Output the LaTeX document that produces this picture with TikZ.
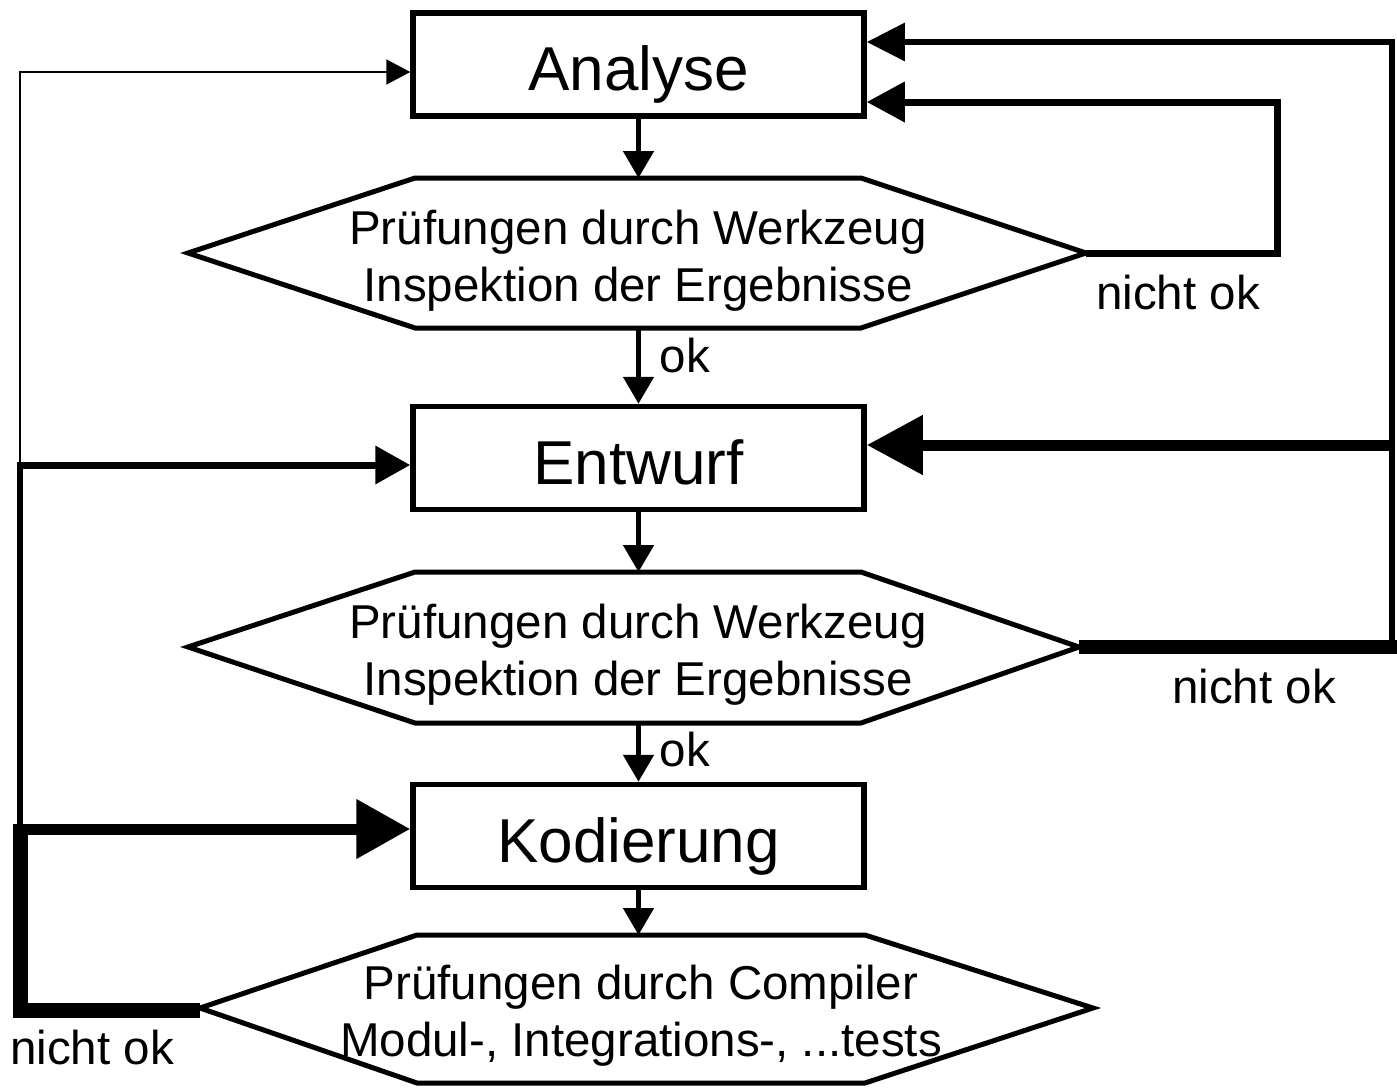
\documentclass[tikz,border=0pt]{standalone}
\usepackage{fontspec}
\setmainfont{Liberation Sans}
\usetikzlibrary{arrows.meta,calc}

\begin{document}
\begin{tikzpicture}[x=1pt,y=-1pt,
  phase/.style={draw, line width=5.5pt, minimum width=451pt, minimum height=103pt,
    inner sep=0pt, font=\fontsize{62}{74}\selectfont, text height=52pt, text depth=0pt},
  checktext/.style={inner sep=0pt, align=center, font=\fontsize{47.5}{57}\selectfont},
  hexline/.style={line width=5pt, line join=miter},
  flow/.style={line width=5pt, -{Triangle[length=27pt,width=30pt]}},
  lbl/.style={font=\fontsize{47.5}{57}\selectfont, anchor=base, inner sep=0pt},
]
\useasboundingbox (0,0) rectangle (1397,1087);

% phases
\node[phase] (A) at (638.5,64.5) {Analyse};
\node[phase] (E) at (638.5,458) {Entwurf};
\node[phase] (K) at (638.5,836) {Kodierung};

% check stage 1
\coordinate (h1w) at (188,253);  \coordinate (h1e) at (1086,253);
\coordinate (h1nw) at (415,178); \coordinate (h1ne) at (861,178);
\coordinate (h1sw) at (415,328); \coordinate (h1se) at (861,328);
\coordinate (h1n) at (638.5,178); \coordinate (h1s) at (638.5,328);
\draw[hexline] (h1w) -- (h1nw) -- (h1ne) -- (h1e) -- (h1se) -- (h1sw) -- cycle;
\node[checktext] (h1) at (638,261) {Prüfungen durch Werkzeug\\Inspektion der Ergebnisse};

% check stage 2
\coordinate (h2w) at (188,647);  \coordinate (h2e) at (1079,647);
\coordinate (h2nw) at (415,572); \coordinate (h2ne) at (861,572);
\coordinate (h2sw) at (415,723); \coordinate (h2se) at (861,723);
\coordinate (h2n) at (638.5,572); \coordinate (h2s) at (638.5,723);
\draw[hexline] (h2w) -- (h2nw) -- (h2ne) -- (h2e) -- (h2se) -- (h2sw) -- cycle;
\node[checktext] (h2) at (638,655) {Prüfungen durch Werkzeug\\Inspektion der Ergebnisse};

% check stage 3
\coordinate (h3w) at (200,1008);  \coordinate (h3e) at (1093,1008);
\coordinate (h3nw) at (417,935);  \coordinate (h3ne) at (865,935);
\coordinate (h3sw) at (417,1083); \coordinate (h3se) at (865,1083);
\coordinate (h3n) at (638.5,935);
\draw[hexline] (h3w) -- (h3nw) -- (h3ne) -- (h3e) -- (h3se) -- (h3sw) -- cycle;
\node[checktext] (h3) at (641,1016) {Prüfungen durch Compiler\\Modul-, Integrations-, ...tests};

% main flow
\draw[flow] (A.south) -- (h1n);
\draw[flow] (h1s) -- (E.north);
\draw[flow] (E.south) -- (h2n);
\draw[flow] (h2s) -- (K.north);
\draw[flow] (K.south) -- (h3n);
\node[lbl] (ok1) at (685,372) {ok};
\node[lbl] (ok2) at (685,766) {ok};

% feedback of the first check
\coordinate (r1b) at (1277,253); \coordinate (r1t) at (1277,102);
\draw[line width=7pt, line join=miter, -{Triangle[length=38pt,width=39pt]}]
  (h1e) -- (r1b) -- (r1t) -- (A.east |- r1t);
\node[lbl] (no1) at (1178,309) {nicht ok};

% feedback of the second check
\coordinate (r2b) at (1392,647); \coordinate (r2m) at (1392,445); \coordinate (r2t) at (1392,42);
\coordinate (r2x) at (1397,647);
\draw[line width=14pt] (h2e) -- (r2x);
\draw[line width=6pt, line join=miter, -{Triangle[length=38pt,width=37pt]}]
  (r2b) -- (r2t) -- (A.east |- r2t);
\draw[line width=11pt, -{Triangle[length=56pt,width=57pt]}] (r2m) -- (E.east |- r2m);
\node[lbl] (no2) at (1254,703) {nicht ok};

% feedback of the third check
\coordinate (lb) at (20,1010); \coordinate (lk) at (20,829);
\coordinate (lk2) at (20,824);
\coordinate (le) at (20,465); \coordinate (le2) at (17,465); \coordinate (la) at (20,72);
\draw[line width=15pt, line join=miter] (h3w |- lb) -- (lb) -- (lk2);
\draw[line width=11pt, -{Triangle[length=54pt,width=57pt]}] (lk) -- (K.west |- lk);
\draw[line width=6pt] (lk) -- (le);
\draw[line width=7pt, -{Triangle[length=35pt,width=37pt]}] (le2) -- (E.west |- le);
\draw[line width=2pt, -{Triangle[length=24pt,width=25pt]}] (le) -- (la) -- (A.west |- la);
\node[lbl] (no3) at (92,1064) {nicht ok};
\end{tikzpicture}
\end{document}
